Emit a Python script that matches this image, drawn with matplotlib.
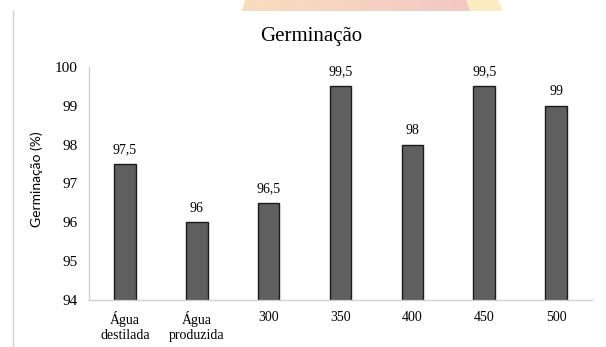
import matplotlib.pyplot as plt
import matplotlib.patches as patches
import numpy as np

plt.rcParams['font.family'] = ['Liberation Serif', 'DejaVu Serif']

categories = ['Água\ndestilada', 'Água\nproduzida', '300', '350', '400', '450', '500']
germinacao = [97.5, 96, 96.5, 99.5, 98, 99.5, 99]
rotulos = ['97,5', '96', '96,5', '99,5', '98', '99,5', '99']
y_ticks = [94, 95, 96, 97, 98, 99, 100]

fig = plt.figure(figsize=(6.06, 3.47), dpi=100)

# faixa decorativa no topo
strip = fig.add_axes([0, 1 - 11 / 347, 1, 11 / 347])
strip.set_xlim(0, 606)
strip.set_ylim(0, 11)
strip.axis('off')
grad = np.linspace(0, 1, 256).reshape(1, -1)
c0 = np.array([0.98, 0.87, 0.75])
c1 = np.array([0.95, 0.78, 0.77])
img = c0 + (c1 - c0) * grad[..., None]
im = strip.imshow(img, extent=[242, 472, 0, 11], aspect='auto')
clip = patches.Polygon([[242, 0], [245, 11], [468, 11], [472, 0]], transform=strip.transData)
im.set_clip_path(clip)
strip.add_patch(patches.Polygon([[470, 0], [466, 11], [498, 11], [503, 0]],
                                fc='#fcedc0', ec='none'))

# borda lateral
fig.add_artist(plt.Line2D([13 / 606, 13 / 606], [0, 1 - 11 / 347],
                          color='#d0d0d0', lw=1, transform=fig.transFigure))

ax = fig.add_axes([89 / 606, 1 - 300 / 347, 503 / 606, 233 / 347])
x = np.arange(len(categories))
bars = ax.bar(x, [v - 94 for v in germinacao], bottom=94, width=0.3,
              color='#5f5f5f', edgecolor='#1a1a1a', linewidth=1)

for xi, v, lab in zip(x, germinacao, rotulos):
    ax.text(xi, v + 0.2, lab, ha='center', va='bottom', fontsize=10)

ax.set_xlim(-0.5, len(categories) - 0.5)
ax.set_ylim(94, 100)
ax.set_yticks(y_ticks)
ax.set_yticklabels([str(t) for t in y_ticks], fontsize=11)
ax.set_xticks(x)
ax.set_xticklabels(categories, fontsize=10, linespacing=1.15)
ax.tick_params(length=0, pad=8)
ax.tick_params(axis='y', pad=8)
for s in ['top', 'right']:
    ax.spines[s].set_visible(False)
for s in ['left', 'bottom']:
    ax.spines[s].set_color('#d0d0d0')
    ax.spines[s].set_linewidth(1)
ax.set_ylabel('Germinação (%)', fontsize=10, family=['Lato', 'DejaVu Sans'])
ax.yaxis.set_label_coords(-46 / 503, 0.52)

fig.text(311 / 606, 1 - 37 / 347, 'Germinação', ha='center', va='center', fontsize=15)

fig.savefig('out.png', dpi=100)
